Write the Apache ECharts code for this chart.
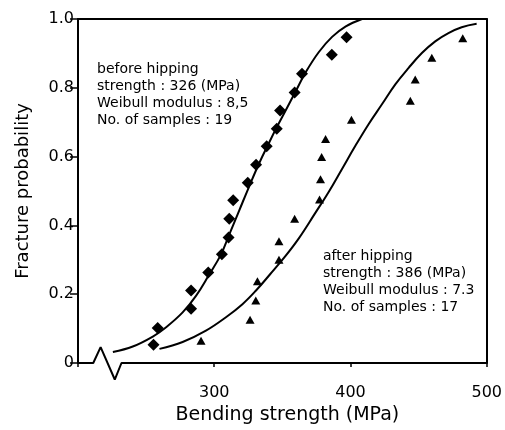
<!DOCTYPE html>
<html>
<head>
<meta charset="utf-8">
<script src="https://cdn.jsdelivr.net/npm/echarts@6/dist/echarts.min.js"></script>
<style>
  html, body { margin: 0; padding: 0; background: #fff; }
  #chart { width: 505px; height: 430px; }
</style>
</head>
<body>
<div id="chart"></div>
<script>
// measured points, before hipping (diamonds)
var beforeX = [255.4, 258.5, 283.0, 283.0, 295.6, 305.6, 310.5, 311.0, 313.9, 324.6, 330.7, 338.5, 345.9, 348.3, 359.0, 364.4, 386.3, 397.1]
var beforeY = [0.053, 0.102, 0.158, 0.211, 0.263, 0.316, 0.365, 0.419, 0.473, 0.524, 0.576, 0.630, 0.681, 0.734, 0.786, 0.841, 0.896, 0.947]

// measured points, after hipping (triangles)
var afterX = [290.3, 326.3, 330.5, 331.7, 347.5, 347.5, 359.0, 377.3, 378.0, 378.8, 381.7, 400.7, 443.9, 447.5, 459.7, 482.4]
var afterY = [0.065, 0.126, 0.182, 0.238, 0.300, 0.354, 0.419, 0.475, 0.534, 0.599, 0.651, 0.707, 0.762, 0.824, 0.887, 0.944]

// fitted curves
var beforeCurveX = [225.6, 240.2, 254.9, 264.7, 276.8, 286.6, 296.3, 304.9, 311.0, 318.3, 325.6, 332.9, 340.2, 345.6, 352.5, 359.8, 367.1, 376.8, 386.5, 396.3, 408.5]
var beforeCurveY = [0.032, 0.048, 0.077, 0.104, 0.147, 0.195, 0.257, 0.315, 0.373, 0.443, 0.513, 0.580, 0.640, 0.683, 0.735, 0.790, 0.845, 0.904, 0.948, 0.978, 1.0]
var afterCurveX = [259.8, 276.8, 293.9, 308.6, 320.7, 330.5, 341.0, 352.5, 362.2, 373.5, 384.1, 393.9, 403.7, 413.4, 423.1, 432.9, 442.7, 452.4, 462.2, 471.9, 481.6, 492.6]
var afterCurveY = [0.041, 0.061, 0.094, 0.133, 0.171, 0.210, 0.258, 0.312, 0.363, 0.432, 0.498, 0.565, 0.632, 0.695, 0.752, 0.810, 0.858, 0.901, 0.935, 0.959, 0.976, 0.986]

// broken x axis (zigzag)
var breakX = [200, 211.2, 216.6, 227.0, 231.9, 500]
var breakY = [0, 0, 0.046, -0.048, 0, 0]

var beforeText = ['before hipping', 'strength : 326 (MPa)', 'Weibull modulus : 8,5', 'No. of samples : 19']
var afterText = ['after hipping', 'strength : 386 (MPa)', 'Weibull modulus : 7.3', 'No. of samples : 17']

const zip = (xs, ys) => xs.map((x, i) => [x, ys[i]])

var FONT = "'DejaVu Sans', sans-serif"
var INK = '#000'

var chart = echarts.init(document.getElementById('chart'), null, {renderer: 'canvas'})

var option = {
    animation: false,
    grid: { left: 78, right: 16, top: 19, bottom: 64 },
    xAxis: [
        {
            type: 'value', min: 200, max: 500, interval: 100,
            axisLine: { show: false, onZero: false },
            axisTick: { show: true, length: 4, lineStyle: { color: INK, width: 1.5 } },
            axisLabel: {
                color: INK, fontFamily: FONT, fontSize: 16, margin: 22,
                formatter: v => v === 200 ? '' : String(v)
            },
            splitLine: { show: false },
            name: 'Bending strength (MPa)',
            nameLocation: 'middle',
            nameGap: 43,
            nameTextStyle: { color: INK, fontFamily: FONT, fontSize: 19, padding: [0, 0, 0, 10] }
        },
        {
            type: 'value', position: 'top', min: 200, max: 500,
            axisLine: { show: true, onZero: false, lineStyle: { color: INK, width: 2 } },
            axisTick: { show: false }, axisLabel: { show: false }, splitLine: { show: false }
        }
    ],
    yAxis: [
        {
            type: 'value', min: 0, max: 1, interval: 0.2,
            axisLine: { show: true, onZero: false, lineStyle: { color: INK, width: 2 } },
            axisTick: { show: true, length: 8, lineStyle: { color: INK, width: 1.5 } },
            axisLabel: {
                color: INK, fontFamily: FONT, fontSize: 16, margin: 4,
                formatter: v => v === 0 ? '0' : v.toFixed(1)
            },
            splitLine: { show: false },
            name: 'Fracture probability',
            nameLocation: 'middle',
            nameGap: 46,
            nameTextStyle: { color: INK, fontFamily: FONT, fontSize: 18 }
        },
        {
            type: 'value', position: 'right', min: 0, max: 1,
            axisLine: { show: true, onZero: false, lineStyle: { color: INK, width: 2 } },
            axisTick: { show: false }, axisLabel: { show: false }, splitLine: { show: false }
        }
    ],
    series: [
        {
            type: 'line', data: zip(breakX, breakY), clip: false, symbol: 'none',
            lineStyle: { color: INK, width: 2 }, z: 5
        },
        {
            type: 'line', data: zip(beforeCurveX, beforeCurveY), smooth: 0.4, symbol: 'none',
            lineStyle: { color: INK, width: 2 }
        },
        {
            type: 'line', data: zip(afterCurveX, afterCurveY), smooth: 0.4, symbol: 'none',
            lineStyle: { color: INK, width: 2 }
        },
        {
            type: 'scatter', data: zip(beforeX, beforeY), symbol: 'diamond', symbolSize: [12, 12],
            itemStyle: { color: INK, opacity: 1 }
        },
        {
            type: 'scatter', data: zip(afterX, afterY), symbol: 'triangle', symbolSize: [9, 8],
            itemStyle: { color: INK, opacity: 1 }
        }
    ],
    graphic: [
        {
            type: 'text', left: 97, top: 61,
            style: { text: beforeText.join('\n'), font: '14px ' + FONT, fill: INK, lineHeight: 17 }
        },
        {
            type: 'text', left: 323, top: 248,
            style: { text: afterText.join('\n'), font: '14px ' + FONT, fill: INK, lineHeight: 17 }
        }
    ]
}

chart.setOption(option)
</script>
</body>
</html>
